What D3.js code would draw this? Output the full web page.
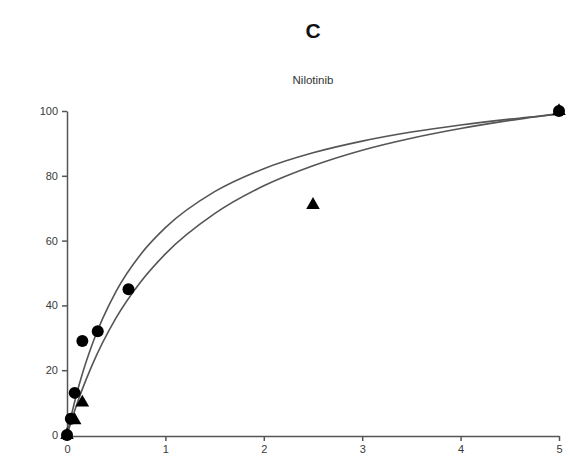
<!DOCTYPE html>
<html lang="en">
<head>
<meta charset="utf-8">
<title>Nilotinib</title>
<script src="https://cdn.jsdelivr.net/npm/d3@7"></script>
<style>
  body { margin: 0; background: #fff; font-family: Arial, "Liberation Sans", Helvetica, sans-serif; }
  svg { display: block; }
  .axis path, .axis line { stroke: #555; stroke-width: 1.5; }
  .axis text { fill: #3a3a3a; font-size: 11px; font-family: Arial, "Liberation Sans", sans-serif; }
  .fit { fill: none; stroke: #555; stroke-width: 1.6; }
</style>
</head>
<body>
<div id="chart"></div>
<script>
// data
const panelLabel = "C";
const title = "Nilotinib";

const circleX = [0, 0.039, 0.078, 0.156, 0.3125, 0.625, 5];
const circleY = [0, 5, 13, 29, 32, 45, 100];

const triangleX = [0, 0.078, 0.156, 2.5, 5];
const triangleY = [0, 4.5, 10, 71, 100];

// fitted curves
const fitX      = [0, 0.05, 0.1, 0.15, 0.25, 0.5, 0.75, 1, 1.5, 2, 2.5, 3, 3.5, 4, 4.5, 5];
const upperFitY = [0, 6.8, 12.9, 18.3, 27.5, 44.4, 55.8, 64.0, 75.1, 82.2, 87.1, 90.7, 93.5, 95.7, 97.5, 99.0];
const lowerFitY = [0, 4.9, 9.5, 13.7, 21.2, 36.2, 47.3, 55.9, 68.3, 76.9, 83.1, 87.9, 91.6, 94.6, 97.1, 99.2];

const xTicks = [0, 1, 2, 3, 4, 5];
const yTicks = [0, 20, 40, 60, 80, 100];

const width = 571, height = 475;

const svg = d3.select("#chart").append("svg")
  .attr("width", width)
  .attr("height", height)
  .attr("viewBox", [0, 0, width, height]);

const x = d3.scaleLinear().domain([0, 5]).range([67, 559]);
const y = d3.scaleLinear().domain([0, 100]).range([435, 111]);

// titles
svg.append("text")
  .attr("x", 313).attr("y", 38)
  .attr("text-anchor", "middle")
  .style("font-size", "21px").style("font-weight", "bold").style("fill", "#111")
  .text(panelLabel);

svg.append("text")
  .attr("x", 313).attr("y", 84)
  .attr("text-anchor", "middle")
  .style("font-size", "11.5px").style("fill", "#333")
  .text(title);

// axes
svg.append("g")
  .attr("class", "axis")
  .attr("transform", "translate(" + x(0) + ",0)")
  .call(d3.axisLeft(y).tickValues(yTicks).tickSize(5).tickPadding(4).tickSizeOuter(0));

svg.append("g")
  .attr("class", "axis")
  .attr("transform", "translate(0," + (y(0) + 1) + ")")
  .call(d3.axisBottom(x).tickValues(xTicks).tickFormat(d3.format("d"))
    .tickSize(5).tickPadding(4).tickSizeOuter(0));

// fit lines
const line = d3.line()
  .x(d => x(d[0]))
  .y(d => y(d[1]))
  .curve(d3.curveMonotoneX);

svg.append("path").attr("class", "fit")
  .attr("d", line(d3.zip(fitX, upperFitY)));
svg.append("path").attr("class", "fit")
  .attr("d", line(d3.zip(fitX, lowerFitY)));

// markers
svg.append("g").selectAll("path")
  .data(d3.zip(triangleX, triangleY))
  .join("path")
  .attr("transform", d => "translate(" + x(d[0]) + "," + y(d[1]) + ")")
  .attr("d", d3.symbol(d3.symbolTriangle, 80))
  .attr("fill", "#000");

svg.append("g").selectAll("circle")
  .data(d3.zip(circleX, circleY))
  .join("circle")
  .attr("cx", d => x(d[0]))
  .attr("cy", d => y(d[1]))
  .attr("r", 6)
  .attr("fill", "#000");
</script>
</body>
</html>
